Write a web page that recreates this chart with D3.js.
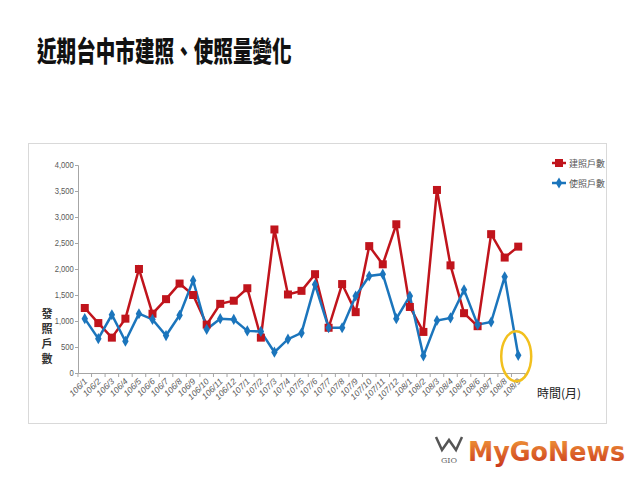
<!DOCTYPE html>
<html><head><meta charset="utf-8">
<script src="https://cdn.jsdelivr.net/npm/d3@7"></script>
<style>
html,body{margin:0;padding:0;background:#fff;}
svg{display:block;}
</style></head>
<body>
<script>
const months = ["106/1","106/2","106/3","106/4","106/5","106/6","106/7","106/8","106/9","106/10","106/11","106/12",
"107/1","107/2","107/3","107/4","107/5","107/6","107/7","107/8","107/9","107/10","107/11","107/12",
"108/1","108/2","108/3","108/4","108/5","108/6","108/7","108/8","108/9"];
const buildPermits = [1250,960,680,1045,2000,1140,1420,1720,1500,930,1330,1390,
1630,680,2760,1510,1580,1900,870,1710,1170,2440,2090,2860,
1270,790,3520,2070,1150,900,2670,2220,2430];
const usePermits = [1045,660,1120,610,1140,1030,720,1110,1780,840,1045,1030,
810,800,400,650,770,1700,870,870,1480,1865,1900,1045,
1480,330,1010,1060,1600,930,980,1850,340];
const yTicks = [0,500,1000,1500,2000,2500,3000,3500,4000];
const seriesNames = ["建照戶數","使照戶數"];
const title = "近期台中市建照、使照量變化";

const W=640,H=480;
const svg=d3.select("body").append("svg").attr("width",W).attr("height",H);
svg.append("rect").attr("width",W).attr("height",H).attr("fill","#fff");

// title
svg.append("text").attr("x",37).attr("y",62)
  .attr("transform","translate(37,0) scale(0.7,1) translate(-37,0)")
  .attr("font-family","Noto Sans CJK TC").attr("font-weight",900)
  .attr("font-size",28).attr("fill","#111").text(title);

// chart frame
svg.append("rect").attr("x",28.5).attr("y",143.5).attr("width",578).attr("height",280)
  .attr("fill","#fff").attr("stroke","#d9d9d9").attr("stroke-width",1);

const x=d3.scaleBand().domain(months).range([78,525]).paddingInner(0).paddingOuter(0);
const y=d3.scaleLinear().domain([0,4000]).range([373,165]);
const cx=d=>x(d)+x.bandwidth()/2;

// y axis
const ya=svg.append("g").attr("transform","translate(78,0)")
  .call(d3.axisLeft(y).tickValues(yTicks).tickFormat(d3.format(",")).tickSize(3).tickPadding(3));
ya.select(".domain").attr("stroke","#a6a6a6");
ya.selectAll(".tick line").attr("stroke","#a6a6a6");
ya.selectAll("text").attr("font-family","Liberation Sans Narrow, Liberation Sans").attr("font-size",9)
  .attr("fill","#595959").attr("transform","scale(0.85,1)").attr("x",-5);

// x axis
const xa=svg.append("g").attr("transform","translate(0,373)")
  .call(d3.axisBottom(x).tickSize(0).tickFormat(d=>d));
xa.select(".domain").attr("stroke","#a6a6a6");
xa.selectAll(".tick text").attr("font-family","Liberation Sans Narrow, Liberation Sans").attr("font-size",8.5)
  .attr("font-style","italic").attr("fill","#595959")
  .attr("text-anchor","end").attr("dy",0).attr("y",0)
  .attr("transform","translate(3,9) rotate(-45)");
// boundary ticks
const bounds=months.map(d=>x(d)).concat([x(months[months.length-1])+x.bandwidth()]);
svg.append("g").selectAll("line").data(bounds).join("line")
  .attr("x1",d=>d).attr("x2",d=>d).attr("y1",373).attr("y2",377).attr("stroke","#a6a6a6");

// axis titles
const yt="發照戶數".split("");
svg.append("g").selectAll("text").data(yt).join("text")
  .attr("x",47).attr("y",(d,i)=>318+i*15).attr("text-anchor","middle")
  .attr("font-family","Noto Sans CJK TC").attr("font-size",11).attr("font-weight",700)
  .attr("fill","#333").text(d=>d);
svg.append("text").attr("x",537).attr("y",398).attr("font-family","Noto Sans CJK TC")
  .attr("font-size",12).attr("fill","#222").text("時間(月)");

const red="#c0141c", blue="#1b75bc";
const line=d3.line().x((d,i)=>cx(months[i])).y(d=>y(d));

svg.append("path").datum(buildPermits).attr("d",line).attr("fill","none").attr("stroke",red).attr("stroke-width",2.5);
svg.append("path").datum(usePermits).attr("d",line).attr("fill","none").attr("stroke",blue).attr("stroke-width",2.5);

svg.append("g").selectAll("rect").data(buildPermits).join("rect")
  .attr("x",(d,i)=>cx(months[i])-4).attr("y",d=>y(d)-4).attr("width",8).attr("height",8).attr("fill",red);
const diamond=d3.symbol().type(d3.symbolDiamond).size(36);
svg.append("g").selectAll("path").data(usePermits).join("path")
  .attr("d",diamond).attr("transform",(d,i)=>`translate(${cx(months[i])},${y(d)})`).attr("fill",blue);

// highlight ellipse on last use-permit point
const last=months.length-1;
svg.append("ellipse").attr("cx",cx(months[last])-2).attr("cy",y(usePermits[last])+1)
  .attr("rx",15).attr("ry",25).attr("fill","none").attr("stroke","#f2c01e").attr("stroke-width",2.5);

// legend
const lg=svg.append("g");
[[red,"rect"],[blue,"diamond"]].forEach((s,i)=>{
  const ly=163+i*20;
  lg.append("line").attr("x1",552).attr("x2",566).attr("y1",ly).attr("y2",ly).attr("stroke",s[0]).attr("stroke-width",2.5);
  if(s[1]==="rect") lg.append("rect").attr("x",555).attr("y",ly-4).attr("width",8).attr("height",8).attr("fill",s[0]);
  else lg.append("path").attr("d",diamond).attr("transform",`translate(559,${ly})`).attr("fill",s[0]);
  lg.append("text").attr("x",569).attr("y",ly+3.5).attr("font-family","Noto Sans CJK TC")
    .attr("font-size",9).attr("fill","#555").text(seriesNames[i]);
});

// logo
const defs=svg.append("defs");
const gr=defs.append("linearGradient").attr("id","lg").attr("x1",0).attr("y1",0).attr("x2",0).attr("y2",1);
gr.append("stop").attr("offset","0%").attr("stop-color","#f29a3a");
gr.append("stop").attr("offset","100%").attr("stop-color","#c9361c");
svg.append("text").attr("x",468).attr("y",461)
  .attr("transform","translate(468,0) scale(0.94,1) translate(-468,0)")
  .attr("font-family","DejaVu Sans").attr("font-weight",700).attr("font-size",27)
  .attr("fill","url(#lg)").text("MyGoNews");
svg.append("path").attr("d","M436,437 L442,450 L449,440 L456,450 L462,437")
  .attr("fill","none").attr("stroke","#555").attr("stroke-width",2.5);
svg.append("text").attr("x",449).attr("y",463).attr("text-anchor","middle")
  .attr("font-family","DejaVu Serif").attr("font-size",8).attr("fill","#666").text("GIO");
</script>
</body></html>
